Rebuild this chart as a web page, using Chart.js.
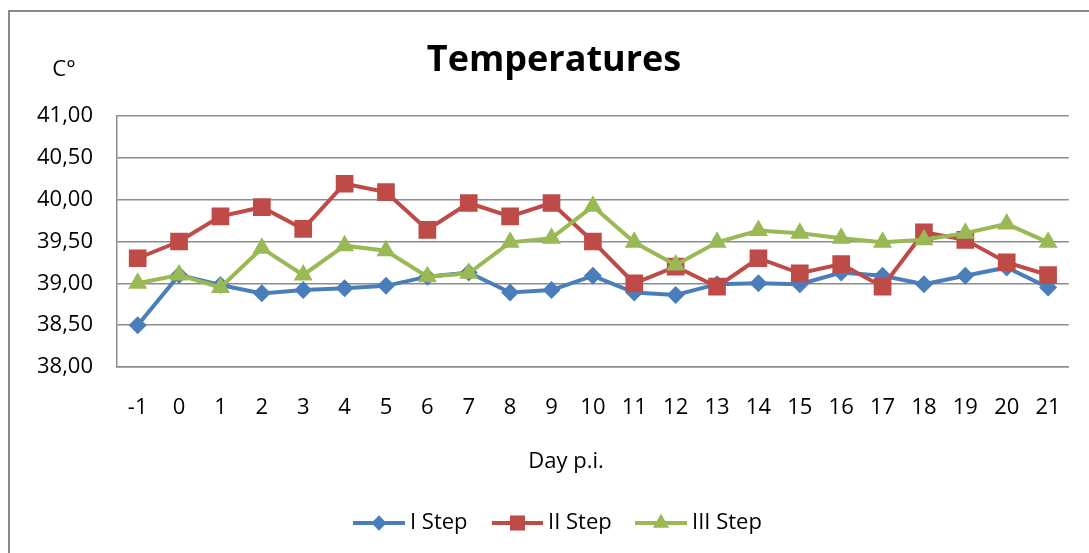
<!DOCTYPE html>
<html>
<head>
<meta charset="utf-8">
<script src="https://cdn.jsdelivr.net/npm/chart.js@4.4.1/dist/chart.umd.min.js"></script>
<style>
  html, body { margin: 0; padding: 0; background: #ffffff; }
  #wrap { width: 1089px; height: 553px; }
</style>
</head>
<body>
<div id="wrap"><canvas id="chart" width="1089" height="553"></canvas></div>
<script>
// Day post infection (x axis categories)
const days = ['-1','0','1','2','3','4','5','6','7','8','9','10','11','12','13','14','15','16','17','18','19','20','21'];

// Mean body temperatures per step (°C)
const stepI   = [38.50, 39.10, 38.98, 38.88, 38.92, 38.94, 38.97, 39.08, 39.13, 38.89, 38.92, 39.09, 38.89, 38.86, 38.99, 39.00, 38.99, 39.13, 39.09, 38.99, 39.09, 39.19, 38.95];
const stepII  = [39.30, 39.50, 39.80, 39.91, 39.65, 40.19, 40.09, 39.64, 39.96, 39.80, 39.96, 39.50, 39.00, 39.20, 38.96, 39.30, 39.12, 39.23, 38.96, 39.61, 39.52, 39.25, 39.10];
const stepIII = [39.00, 39.10, 38.95, 39.42, 39.10, 39.45, 39.39, 39.08, 39.12, 39.49, 39.54, 39.92, 39.49, 39.22, 39.49, 39.63, 39.60, 39.54, 39.49, 39.52, 39.60, 39.71, 39.49];

// Value axis range and step
const yMin = 38.0;
const yMax = 41.0;
const yStep = 0.5;

const seriesNames = ['I Step', 'II Step', 'III Step'];
const seriesColors = ['#4a7ebb', '#be4b48', '#98b954'];
const seriesMarkers = [
  { pointStyle: 'rectRot', radius: 9 },
  { pointStyle: 'rect', radius: 12.5 },
  { pointStyle: 'triangle', radius: 11 }
];

const FONT = '"Open Sans", "Liberation Sans", sans-serif';
const GRID = '#8c8c8c';

function makeDataset(i, values) {
  return {
    label: seriesNames[i],
    data: values,
    borderColor: seriesColors[i],
    backgroundColor: seriesColors[i],
    pointBackgroundColor: seriesColors[i],
    pointBorderColor: seriesColors[i],
    pointBorderWidth: 0,
    pointStyle: seriesMarkers[i].pointStyle,
    pointRadius: seriesMarkers[i].radius,
    pointHoverRadius: seriesMarkers[i].radius,
    borderWidth: 4,
    tension: 0,
    fill: false,
    order: 3 - i
  };
}

// Frame, heading, unit label, axis caption and legend
const decorations = {
  id: 'decorations',
  afterDraw(chart) {
    const ctx = chart.ctx;
    ctx.save();

    // outer frame
    ctx.strokeStyle = '#8a8a8a';
    ctx.lineWidth = 2;
    ctx.beginPath();
    ctx.moveTo(9, 553);
    ctx.lineTo(9, 11);
    ctx.lineTo(1089, 11);
    ctx.stroke();

    ctx.fillStyle = '#000000';
    ctx.textBaseline = 'alphabetic';

    // heading
    ctx.font = 'bold 36px ' + FONT;
    ctx.textAlign = 'center';
    ctx.fillText('Temperatures', 554, 71);

    // unit label
    ctx.font = '22px ' + FONT;
    ctx.fillText('C°', 64, 76);

    // x axis caption
    ctx.textBaseline = 'middle';
    ctx.fillText('Day p.i.', 566, 462);

    // legend
    const legendY = 523;
    const entries = [
      { x0: 353, x1: 405, tx: 410 },
      { x0: 492, x1: 543, tx: 548 },
      { x0: 635, x1: 687, tx: 692 }
    ];
    chart.data.datasets.forEach((ds, i) => {
      const e = entries[i];
      ctx.strokeStyle = ds.borderColor;
      ctx.lineWidth = 4;
      ctx.beginPath();
      ctx.moveTo(e.x0, legendY);
      ctx.lineTo(e.x1, legendY);
      ctx.stroke();
      ctx.fillStyle = ds.pointBackgroundColor;
      ctx.strokeStyle = ds.pointBorderColor;
      Chart.helpers.drawPoint(ctx, {
        pointStyle: ds.pointStyle,
        radius: ds.pointRadius * 0.85,
        rotation: 0,
        borderWidth: 0
      }, (e.x0 + e.x1) / 2, legendY);
      ctx.fillStyle = '#000000';
      ctx.textAlign = 'left';
      ctx.font = '22px ' + FONT;
      ctx.fillText(ds.label, e.tx, legendY);
    });

    ctx.restore();
  }
};

new Chart(document.getElementById('chart'), {
  type: 'line',
  data: {
    labels: days,
    datasets: [
      makeDataset(0, stepI),
      makeDataset(1, stepII),
      makeDataset(2, stepIII)
    ]
  },
  options: {
    responsive: false,
    animation: false,
    devicePixelRatio: 1,
    layout: { padding: { left: 0, right: 15, top: 116, bottom: 0 } },
    plugins: {
      legend: { display: false },
      title: { display: false },
      tooltip: { enabled: false }
    },
    scales: {
      x: {
        offset: true,
        grid: { display: false, drawTicks: false },
        border: { display: true, color: GRID, width: 1.5 },
        ticks: {
          color: '#000000',
          font: { family: FONT, size: 22 },
          padding: 28,
          maxRotation: 0,
          autoSkip: false
        },
        afterFit(scale) { scale.height = 186; }
      },
      y: {
        min: yMin,
        max: yMax,
        grid: { color: GRID, lineWidth: 1.5, drawTicks: false },
        border: { display: true, color: GRID, width: 1.5 },
        ticks: {
          stepSize: yStep,
          color: '#000000',
          font: { family: FONT, size: 22 },
          padding: 24,
          callback: (v) => v.toFixed(2).replace('.', ',')
        },
        afterFit(scale) { scale.width = 117; }
      }
    }
  },
  plugins: [decorations]
});
</script>
</body>
</html>
